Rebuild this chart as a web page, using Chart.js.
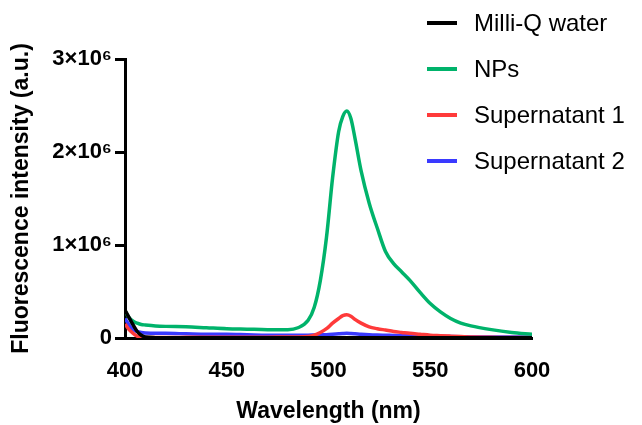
<!DOCTYPE html>
<html>
<head>
<meta charset="utf-8">
<script src="https://cdn.jsdelivr.net/npm/chart.js@4.4.1/dist/chart.umd.min.js"></script>
<style>
    body { margin: 0; background: #fff; }
    #wrap { position: relative; width: 642px; height: 425px; }
    #legend { position: absolute; left: 427px; top: 0px; font-family: 'Liberation Sans', Arial, sans-serif; font-size: 24px; color: #000; }
    .row { display: flex; align-items: center; height: 46px; }
    .swatch { width: 30px; height: 4px; margin-right: 17px; }
</style>
</head>
<body>
<div id="wrap">
    <canvas id="spectrumChart" width="642" height="425"></canvas>
    <div id="legend"></div>
</div>
<script>
// wavelengths (nm)
const wavelengths = [400, 402, 404, 406, 408, 410, 415, 420, 430, 440, 450, 460, 470, 480, 485, 490, 493, 496, 499, 502, 505, 507, 509, 511, 513, 516, 520, 524, 528, 532, 536, 540, 545, 550, 555, 560, 565, 570, 580, 590, 600];

// fluorescence intensity, in units of 10^6 a.u.
const milliQ = [0.30, 0.22, 0.14, 0.07, 0.03, 0.01, 0.004, 0.003, 0.003, 0.003, 0.003, 0.003, 0.003, 0.003, 0.003, 0.003, 0.003, 0.003, 0.003, 0.003, 0.003, 0.003, 0.003, 0.003, 0.003, 0.003, 0.003, 0.003, 0.003, 0.003, 0.003, 0.003, 0.003, 0.003, 0.003, 0.003, 0.003, 0.003, 0.003, 0.003, 0.003];
const nps = [0.29, 0.22, 0.18, 0.16, 0.145, 0.14, 0.13, 0.125, 0.12, 0.11, 0.10, 0.095, 0.09, 0.09, 0.11, 0.19, 0.33, 0.62, 1.08, 1.72, 2.22, 2.38, 2.44, 2.36, 2.15, 1.80, 1.45, 1.18, 0.93, 0.80, 0.71, 0.62, 0.49, 0.37, 0.28, 0.21, 0.16, 0.13, 0.09, 0.06, 0.04];
const supernatant1 = [0.15, 0.09, 0.05, 0.02, 0.01, 0.005, 0.005, 0.006, 0.007, 0.008, 0.008, 0.009, 0.009, 0.01, 0.01, 0.015, 0.03, 0.06, 0.10, 0.16, 0.21, 0.24, 0.25, 0.235, 0.20, 0.16, 0.12, 0.10, 0.085, 0.07, 0.06, 0.05, 0.04, 0.03, 0.025, 0.02, 0.015, 0.01, 0.008, 0.005, 0.005];
const supernatant2 = [0.21, 0.14, 0.09, 0.07, 0.06, 0.055, 0.05, 0.05, 0.045, 0.04, 0.04, 0.035, 0.03, 0.03, 0.03, 0.03, 0.032, 0.034, 0.036, 0.04, 0.045, 0.048, 0.05, 0.048, 0.045, 0.04, 0.035, 0.032, 0.03, 0.028, 0.026, 0.025, 0.022, 0.02, 0.018, 0.015, 0.013, 0.012, 0.01, 0.01, 0.01];

const seriesLabels = ['Milli-Q water', 'NPs', 'Supernatant 1', 'Supernatant 2'];
const seriesColors = ['#000000', '#00b36b', '#ff3a3a', '#3a3aff'];
const seriesValues = [milliQ, nps, supernatant1, supernatant2];

const yTicks = [0, 1e6, 2e6, 3e6];
const yTickLabels = ['0', '1×10⁶', '2×10⁶', '3×10⁶'];

const FONT = "'Liberation Sans', Arial, sans-serif";

const datasets = seriesLabels.map((label, i) => ({
    label: label,
    data: wavelengths.map((w, j) => ({ x: w, y: seriesValues[i][j] * 1e6 })),
    borderColor: seriesColors[i],
    borderWidth: 3.5,
    pointRadius: 0,
    cubicInterpolationMode: 'monotone',
    fill: false
}));

const ctx = document.getElementById('spectrumChart').getContext('2d');

const chart = new Chart(ctx, {
    type: 'line',
    data: { datasets: datasets },
    options: {
        responsive: false,
        animation: false,
        layout: { padding: { left: 0, top: 59, right: 110, bottom: 0 } },
        plugins: {
            legend: { display: false },
            tooltip: { enabled: false }
        },
        scales: {
            x: {
                type: 'linear',
                min: 400,
                max: 600,
                afterFit: (scale) => { scale.height = 87; },
                ticks: {
                    stepSize: 50,
                    padding: 12,
                    color: '#000',
                    font: { family: FONT, size: 22, weight: 'bold' }
                },
                grid: { display: false },
                border: { color: '#000', width: 3 },
                title: {
                    display: true,
                    text: 'Wavelength (nm)',
                    color: '#000',
                    font: { family: FONT, size: 23, weight: 'bold' },
                    padding: { top: 0, bottom: 0 }
                }
            },
            y: {
                min: 0,
                max: 3e6,
                afterFit: (scale) => { scale.width = 125; },
                afterBuildTicks: (scale) => { scale.ticks = yTicks.map(v => ({ value: v })); },
                ticks: {
                    padding: 3,
                    color: '#000',
                    font: { family: FONT, size: 22, weight: 'bold' },
                    callback: (value) => yTickLabels[yTicks.indexOf(value)]
                },
                grid: {
                    drawOnChartArea: false,
                    tickLength: 10,
                    tickWidth: 3,
                    tickColor: '#000'
                },
                border: { color: '#000', width: 3 },
                title: {
                    display: true,
                    text: 'Fluorescence intensity (a.u.)',
                    color: '#000',
                    font: { family: FONT, size: 23, weight: 'bold' },
                    padding: { top: 8, bottom: 0 }
                }
            }
        }
    }
});

// legend drawn as html, it overlaps the plot area in the original
const legend = document.getElementById('legend');
chart.data.datasets.forEach((ds) => {
    const row = document.createElement('div');
    row.className = 'row';
    const swatch = document.createElement('span');
    swatch.className = 'swatch';
    swatch.style.backgroundColor = ds.borderColor;
    const text = document.createElement('span');
    text.textContent = ds.label;
    row.appendChild(swatch);
    row.appendChild(text);
    legend.appendChild(row);
});
</script>
</body>
</html>
